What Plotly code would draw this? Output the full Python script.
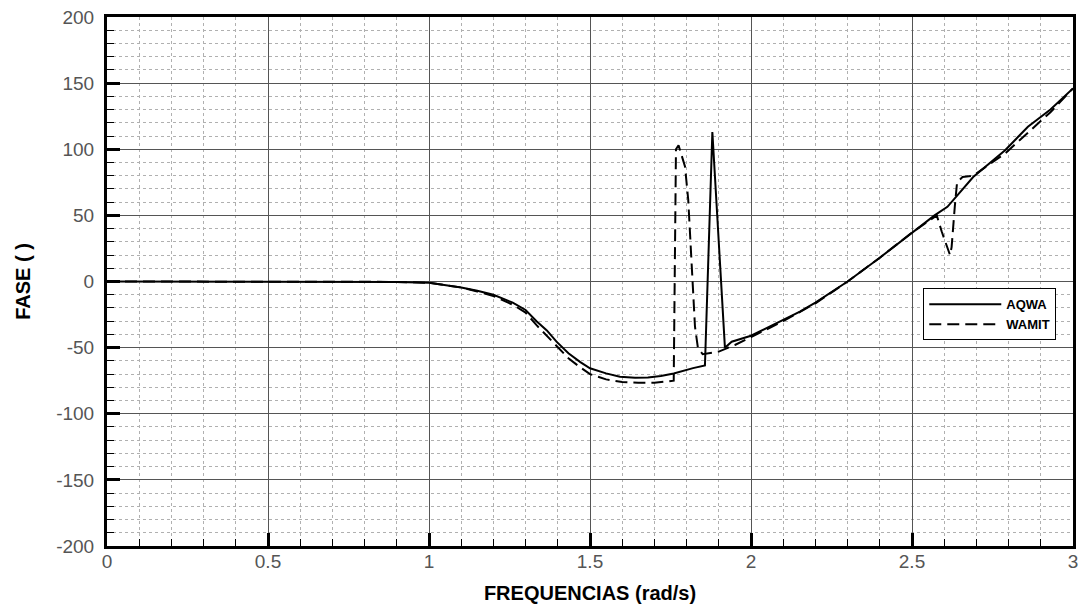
import plotly.graph_objects as go

# AQWA series (frequency rad/s, phase deg)
aqwa_x = [0, 0.5, 0.8, 0.9, 1.0, 1.1, 1.15, 1.2, 1.26, 1.3, 1.334, 1.366, 1.396, 1.433,
          1.47, 1.5, 1.55, 1.593, 1.64, 1.68, 1.72, 1.76, 1.82,
          1.857, 1.880, 1.919, 1.94, 2.0, 2.1, 2.152, 2.2, 2.3, 2.4, 2.5, 2.57, 2.61, 2.64,
          2.69, 2.79, 2.86, 2.93, 3.0]
aqwa_y = [0, 0, 0, -0.3, -1.0, -4.5, -7, -10, -16, -21.5, -30, -37, -45.5, -54.3,
          -61, -65.6, -69.5, -72, -72.8, -72.5, -71.5, -69.5, -65.5,
          -63.5, 113, -50, -45.5, -41, -29, -22.8, -16, 0, 18, 37, 50, 56.5, 65,
          79, 99.5, 117, 130, 146]

# WAMIT series
wamit_x = [0, 0.5, 0.8, 0.9, 1.0, 1.1, 1.15, 1.2, 1.26, 1.3, 1.334, 1.366, 1.396, 1.433,
           1.47, 1.5, 1.55, 1.6, 1.65, 1.7, 1.76,
           1.767, 1.775, 1.795, 1.805, 1.816, 1.826, 1.835, 1.85, 1.9, 1.95, 2.0, 2.1,
           2.2, 2.3, 2.4, 2.5, 2.577, 2.592, 2.618, 2.623, 2.633, 2.64, 2.657, 2.69,
           2.79, 2.85, 2.93, 3.0]
wamit_y = [0, 0, 0, -0.3, -1.0, -4.5, -7.5, -11, -17.5, -23.5, -33, -41, -49, -58,
           -65, -70, -74, -76, -76.5, -76.5, -75,
           100, 103, 87, 62, 11, -34, -50, -55, -53, -48, -42, -30,
           -16.5, 0, 18, 37, 50, 38, 20, 26, 57, 75, 79, 80,
           97, 110, 128, 146]

x_ticks = [0, 0.5, 1, 1.5, 2, 2.5, 3]
x_tick_labels = ["0", "0.5", "1", "1.5", "2", "2.5", "3"]
y_ticks = [-200, -150, -100, -50, 0, 50, 100, 150, 200]
y_tick_labels = ["-200", "-150", "-100", "-50", "0", "50", "100", "150", "200"]

fig = go.Figure()
fig.add_trace(go.Scatter(x=aqwa_x, y=aqwa_y, mode="lines", name="AQWA",
                         line=dict(color="black", width=2)))
fig.add_trace(go.Scatter(x=wamit_x, y=wamit_y, mode="lines", name="WAMIT",
                         line=dict(color="black", width=2, dash="12px,6px")))

tickfont = dict(family="Liberation Sans, Arial, sans-serif", size=19, color="#555")
titlefont = dict(family="Liberation Sans, Arial, sans-serif", size=20, color="black",
                 weight="bold")

fig.update_xaxes(range=[0, 3], tickvals=x_ticks, ticktext=x_tick_labels,
                 showline=True, linecolor="black", linewidth=3, mirror=True,
                 ticks="inside", ticklen=13, tickwidth=3, tickcolor="black",
                 showgrid=True, gridcolor="#555", gridwidth=1,
                 minor=dict(dtick=0.1, ticks="inside", ticklen=7, tickwidth=1,
                            tickcolor="black", showgrid=True, gridcolor="#b0b0b0",
                            griddash="dot", gridwidth=1),
                 zeroline=False, tickfont=tickfont, automargin=False,
                 ticklabelstandoff=-4, ticklabeloverflow="allow",
                 title=dict(text="FREQUENCIAS (rad/s)", font=titlefont, standoff=16))
fig.update_yaxes(range=[-200, 200], tickvals=y_ticks, ticktext=y_tick_labels,
                 showline=True, linecolor="black", linewidth=3, mirror=True,
                 ticks="inside", ticklen=13, tickwidth=3, tickcolor="black",
                 showgrid=True, gridcolor="#555", gridwidth=1,
                 minor=dict(dtick=10, ticks="inside", ticklen=7, tickwidth=1,
                            tickcolor="black", showgrid=True, gridcolor="#b0b0b0",
                            griddash="dot", gridwidth=1),
                 zeroline=False, tickfont=tickfont, automargin=False,
                 ticklabelstandoff=6, ticklabeloverflow="allow",
                 title=dict(text="FASE ( )", font=titlefont, standoff=21))

fig.update_layout(
    width=1080, height=608,
    margin=dict(l=107, r=7, t=17, b=62),
    plot_bgcolor="white", paper_bgcolor="white",
    showlegend=True,
    legend=dict(x=0.845, y=0.487, xanchor="left", yanchor="top",
                bgcolor="white", bordercolor="black", borderwidth=1,
                font=dict(family="Liberation Sans, Arial, sans-serif", size=13,
                          color="black", weight="bold"),
                tracegroupgap=0, itemwidth=72),
)

fig.write_html("out.html", config={"displayModeBar": False},
               post_script="document.body.style.margin='0px';")
